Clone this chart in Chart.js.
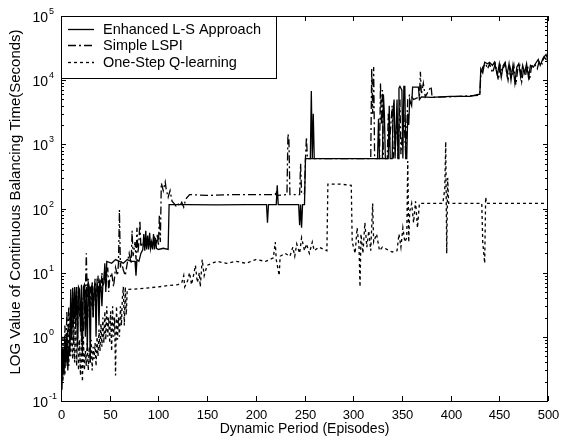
<!DOCTYPE html>
<html>
<head>
<meta charset="utf-8">
<script src="https://cdn.jsdelivr.net/npm/chart.js@4.4.1/dist/chart.umd.min.js"></script>
<style>
  html, body { margin: 0; padding: 0; background: #fff; }
  canvas { display: block; }
</style>
</head>
<body>
<canvas id="chart" width="564" height="441"></canvas>
<script>

// DATA  (episode, balancing time in seconds)

const xTicks = [0, 50, 100, 150, 200, 250, 300, 350, 400, 450, 500];
const yExponents = [-1, 0, 1, 2, 3, 4, 5];
const seriesLabels = ["Enhanced L-S Approach", "Simple LSPI", "One-Step Q-learning"];

const enhanced = [
    [0,0.3],[1,0.15],[2,0.7],[3,0.25],[4,0.9],[5,0.35],[6,1.1],[7,0.3],[8,0.7],[9,0.5],
    [10,5.5],[11,0.9],[12,5.8],[13,1.6],[14,6],[15,2.2],[16,6],[17,0.7],[18,6],[19,5.5],
    [20,1.2],[21,6.5],[22,0.5],[23,6],[24,6.5],[25,1],[26,6],[27,0.6],[28,7],[29,6],
    [30,0.4],[31,6],[32,6.5],[33,2],[34,6],[35,6.5],[36,1],[37,7],[38,6],[39,1.5],
    [40,7],[41,6],[42,3],[43,6.5],[44,7],[45,14],[46,5],[47,15],[52,14],[56,16],
    [60,15],[64,14],[68,16],[72,15],[76,15],[77,9],[78,16],[80,15],[82,20],[84,23],
    [85,40],[86,22],[87,45],[88,23],[89,38],[90,23],[91,42],[92,24],[93,30],[94,23],
    [95,40],[96,23],[97,35],[98,24],[100,23],[105,24],[110,23],[111,115],[130,115],[160,114],
    [190,115],[211,115],[212,60],[213,115],[221,115],[222,230],[223,115],[240,115],[244,115],[245,55],
    [246,115],[247,50],[248,115],[250,115],[251,600],[256,600],[257,6800],[258,600],[259,3000],[260,600],
    [290,600],[325,600],[326,2500],[327,600],[330,600],[331,6000],[332,3000],[333,600],[336,600],[337,4000],
    [338,600],[340,600],[341,3500],[342,5000],[343,600],[345,5000],[346,600],[347,7500],[348,8000],[350,7000],
    [351,600],[352,8000],[353,8000],[354,600],[355,600],[356,3000],[357,2000],[358,5000],[360,4000],[361,7800],
    [367,7800],[368,5000],[370,5500],[380,5400],[400,5600],[420,5600],[428,6000],[430,6000],[431,15000],[433,13000],
    [435,19000],[438,18000],[440,19000],[443,17000],[445,19000],[448,12000],[450,18000],[452,11000],[454,17000],[456,19000],
    [458,12000],[460,18000],[462,10000],[464,17000],[466,9000],[468,16000],[470,18000],[472,11000],[474,17000],[476,13000],
    [478,18000],[480,11000],[482,17000],[485,16000],[488,19000],[490,21000],[492,17000],[495,22000],[498,25000],[500,21000]
];

const simpleLspi = [
    [0,0.4],[1,0.25],[2,1.0],[3,0.3],[4,1.5],[5,0.5],[6,2.5],[7,0.7],[8,3],[9,0.6],
    [10,4],[11,1.2],[12,5],[13,0.8],[14,3],[15,1.5],[16,6],[17,1],[18,5],[19,2],
    [20,3],[21,0.8],[22,4],[23,1.2],[24,2],[25,5],[26,20],[27,4],[28,8],[29,2],
    [30,6],[31,3],[32,7],[33,2],[34,5],[35,8],[36,3],[37,6],[38,9],[39,4],
    [40,8],[41,5],[42,10],[43,6],[44,7],[45,12],[46,6],[47,9],[48,12],[49,5],
    [50,8],[52,10],[54,6],[56,12],[58,9],[59,14],[60,95],[61,12],[62,15],[64,11],
    [66,9],[68,14],[70,20],[72,14],[73,45],[74,18],[76,30],[77,16],[78,50],[79,20],
    [80,30],[81,65],[82,25],[84,30],[86,25],[88,32],[90,26],[92,30],[94,27],[96,35],
    [98,30],[99,40],[100,26],[101,80],[102,30],[103,250],[105,190],[107,260],[108,200],[110,150],
    [112,190],[114,130],[116,120],[118,110],[120,120],[122,110],[124,125],[126,105],[128,140],[132,165],
    [150,160],[180,165],[210,165],[220,165],[221,190],[222,160],[232,165],[233,1450],[234,1200],[235,165],
    [245,165],[246,500],[247,170],[250,170],[251,600],[252,1300],[253,600],[318,600],[319,15000],[320,3000],
    [321,16000],[322,600],[327,600],[328,9000],[329,2000],[330,7000],[331,600],[335,600],[336,3000],[337,900],
    [340,4000],[341,600],[345,2000],[346,600],[348,5000],[349,700],[352,3000],[354,600],[356,5000],[358,6000],
    [362,5000],[368,5500],[369,13500],[370,6000],[372,9000],[374,5500],[380,8000],[381,5400],[400,5500],[428,5800],
    [430,6000],[431,12000],[433,16000],[436,18000],[438,15000],[440,18000],[443,13000],[446,18000],[449,10000],[451,17000],
    [453,14000],[456,18000],[459,10000],[461,16000],[463,12000],[465,17000],[467,8500],[469,15000],[471,17000],[473,9500],
    [475,15000],[477,12000],[479,17000],[481,10000],[483,16000],[486,18000],[489,15000],[491,20000],[494,18000],[496,23000],
    [498,21000],[500,26000]
];

const oneStepQ = [
    [0,0.3],[1,0.5],[2,0.2],[3,0.6],[4,0.25],[5,0.9],[6,0.4],[7,1.2],[8,0.35],[9,1.5],
    [10,0.5],[11,2],[12,0.45],[13,1.1],[14,0.4],[15,2.2],[16,0.35],[17,1.3],[18,0.3],[19,0.9],
    [20,0.25],[21,0.8],[22,0.2],[23,1],[24,0.3],[25,0.6],[26,0.35],[27,0.8],[28,0.3],[29,0.7],
    [30,0.4],[31,0.9],[32,0.3],[33,0.7],[34,0.45],[35,0.8],[36,0.35],[37,1],[38,0.5],[39,1.3],
    [40,0.6],[41,1.6],[42,0.7],[43,2],[44,0.8],[45,2.5],[46,0.9],[47,3],[48,1],[49,2],
    [50,0.8],[51,2.5],[52,0.6],[53,3],[54,1],[55,2],[56,0.25],[57,3],[58,0.9],[59,2],
    [60,1],[61,3],[62,1.5],[63,4],[64,6],[65,1.5],[66,6],[67,2.2],[68,5.5],[70,5.5],
    [80,5.6],[90,5.8],[100,6],[110,6.3],[120,6.5],[124,7],[126,9],[127,6],[130,7.5],[132,10],
    [134,6.5],[136,9],[138,13],[140,7],[142,10],[143,6],[145,16],[147,9],[150,13],[155,14],
    [160,15],[170,14],[180,15],[190,14],[200,16],[210,15],[218,17],[220,30],[221,16],[224,9],
    [225,18],[230,20],[235,18],[238,25],[240,18],[242,28],[245,20],[247,35],[250,22],[252,28],
    [255,20],[258,30],[260,22],[265,25],[270,23],[273,22],[274,240],[286,240],[298,230],[299,30],
    [302,20],[304,50],[306,25],[307,6],[308,40],[310,20],[312,60],[314,25],[316,45],[318,22],
    [320,120],[321,30],[324,40],[327,22],[330,25],[340,21],[345,22],[347,40],[349,25],[351,50],
    [353,30],[355,35],[356,550],[357,30],[358,90],[360,120],[362,60],[364,130],[366,50],[368,120],
    [380,120],[392,120],[394,200],[395,1100],[396,20],[397,300],[398,120],[432,120],[433,30],[435,14],
    [436,150],[437,120],[460,120],[480,120],[500,120]
];

const toXY = pts => pts.map(p => ({ x: p[0], y: p[1] }));
const dashes = [[], [8, 3, 2, 3], [3, 3]];


// AXES, FRAME, LABELS, LEGEND (drawn on top, matlab style)

const matlabFrame = {
    id: "matlabFrame",
    afterDraw(chart) {
        const { ctx, chartArea: a, scales: { x, y } } = chart;
        ctx.save();
        ctx.strokeStyle = "#000";
        ctx.fillStyle = "#000";
        ctx.lineWidth = 1;

        ctx.strokeRect(a.left + 0.5, a.top + 0.5, a.right - a.left - 1, a.bottom - a.top);

        const line = (x1, y1, x2, y2) => {
            ctx.beginPath();
            ctx.moveTo(x1, y1);
            ctx.lineTo(x2, y2);
            ctx.stroke();
        };

        // x ticks + labels
        ctx.font = "13px 'Liberation Sans', Arial, sans-serif";
        ctx.textAlign = "center";
        ctx.textBaseline = "middle";
        xTicks.forEach(v => {
            const px = Math.round(x.getPixelForValue(v)) + 0.5;
            line(px, a.bottom, px, a.bottom - 5);
            line(px, a.top, px, a.top + 5);
            ctx.fillText(String(v), px, a.bottom + 14);
        });

        // y ticks (major + minor) + labels
        yExponents.forEach(e => {
            const py = Math.round(y.getPixelForValue(Math.pow(10, e))) + 0.5;
            line(a.left, py, a.left + 5, py);
            line(a.right, py, a.right - 5, py);
            if (e < 5) {
                for (let m = 2; m <= 9; m++) {
                    const pm = Math.round(y.getPixelForValue(m * Math.pow(10, e))) + 0.5;
                    line(a.left, pm, a.left + 3, pm);
                    line(a.right, pm, a.right - 3, pm);
                }
            }
            ctx.textAlign = "right";
            ctx.font = "14px 'Liberation Sans', Arial, sans-serif";
            ctx.fillText("10", a.left - 13, py + 2);
            ctx.textAlign = "left";
            ctx.font = "9px 'Liberation Sans', Arial, sans-serif";
            ctx.fillText(String(e), a.left - 12, py - 5);
        });

        // axis titles
        ctx.font = "14px 'Liberation Sans', Arial, sans-serif";
        ctx.textAlign = "center";
        ctx.fillText("Dynamic Period (Episodes)", (a.left + a.right) / 2, 429);
        ctx.save();
        ctx.translate(16, 202);
        ctx.rotate(-Math.PI / 2);
        ctx.font = "15px 'Liberation Sans', Arial, sans-serif";
        ctx.fillText("LOG Value of Continuous Balancing Time(Seconds)", 0, 0);
        ctx.restore();

        // legend box
        ctx.fillStyle = "#fff";
        ctx.fillRect(a.left + 0.5, a.top + 0.5, 215, 62);
        ctx.strokeRect(a.left + 0.5, a.top + 0.5, 215, 62);
        ctx.fillStyle = "#000";
        ctx.font = "14.5px 'Liberation Sans', Arial, sans-serif";
        ctx.textAlign = "left";
        const rows = [29, 45, 62];
        seriesLabels.forEach((lbl, i) => {
            ctx.setLineDash(dashes[i]);
            ctx.lineWidth = 1.3;
            line(68, rows[i] + 0.5, 94, rows[i] + 0.5);
            ctx.setLineDash([]);
            ctx.fillText(lbl, 103, rows[i] + 1);
        });

        ctx.restore();
    }
};


new Chart(document.getElementById("chart"), {
    type: "line",
    data: {
        datasets: [enhanced, simpleLspi, oneStepQ].map((pts, i) => ({
            label: seriesLabels[i],
            data: toXY(pts),
            borderColor: "#000",
            borderWidth: 1.3,
            borderDash: dashes[i],
            pointRadius: 0,
            tension: 0,
            fill: false
        }))
    },
    options: {
        responsive: false,
        animation: false,
        devicePixelRatio: 1,
        layout: { padding: { left: 61, right: 16, top: 16, bottom: 40 } },
        plugins: { legend: { display: false }, tooltip: { enabled: false } },
        scales: {
            x: { type: "linear", min: 0, max: 500, display: false },
            y: { type: "logarithmic", min: 0.1, max: 100000, display: false }
        }
    },
    plugins: [matlabFrame]
});
</script>
</body>
</html>
